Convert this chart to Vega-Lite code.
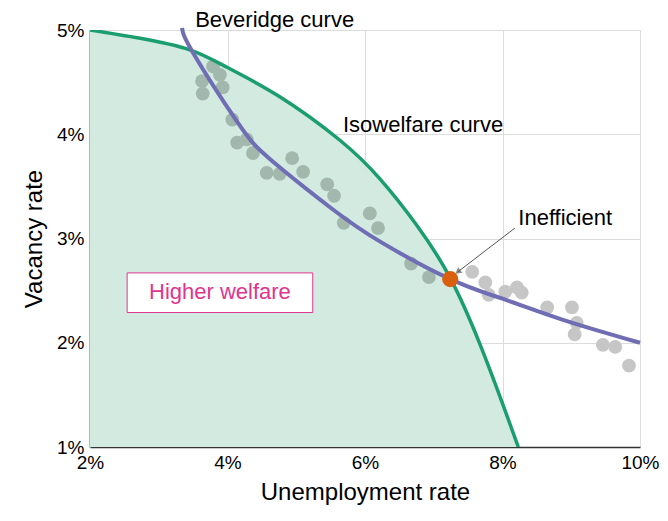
{
  "$schema": "https://vega.github.io/schema/vega-lite/v6.json",
  "width": 550,
  "height": 417,
  "autosize": "none",
  "padding": {"left": 90, "top": 30, "right": 28, "bottom": 74},
  "background": "white",
  "config": {"font": "Liberation Sans", "view": {"stroke": null}},
  "datasets": {
    "iso": [
      {"u": 2.0, "v": 5.0}, {"u": 2.73, "v": 4.92}, {"u": 3.45, "v": 4.81}, {"u": 4.0, "v": 4.64}, {"u": 4.76, "v": 4.36},
      {"u": 5.64, "v": 3.94}, {"u": 6.22, "v": 3.57}, {"u": 6.75, "v": 3.13}, {"u": 7.24, "v": 2.62}, {"u": 7.67, "v": 1.99},
      {"u": 8.01, "v": 1.4}, {"u": 8.23, "v": 1.0}
    ],
    "bev": [
      {"u": 3.34, "v": 5.02}, {"u": 3.5, "v": 4.78}, {"u": 4.14, "v": 4.12}, {"u": 4.62, "v": 3.76},
      {"u": 5.49, "v": 3.3}, {"u": 6.22, "v": 2.97}, {"u": 7.24, "v": 2.61}, {"u": 8.01, "v": 2.42},
      {"u": 8.88, "v": 2.22}, {"u": 10.0, "v": 2.0}
    ],
    "obs": [
      {"u": 3.79, "v": 4.65, "g": "in"}, {"u": 3.89, "v": 4.57, "g": "in"}, {"u": 3.63, "v": 4.51, "g": "in"},
      {"u": 3.93, "v": 4.45, "g": "in"}, {"u": 3.64, "v": 4.39, "g": "in"}, {"u": 4.07, "v": 4.14, "g": "in"},
      {"u": 4.14, "v": 3.92, "g": "in"}, {"u": 4.28, "v": 3.95, "g": "in"}, {"u": 4.37, "v": 3.82, "g": "in"},
      {"u": 4.57, "v": 3.63, "g": "in"}, {"u": 4.76, "v": 3.62, "g": "in"}, {"u": 4.94, "v": 3.77, "g": "in"},
      {"u": 5.1, "v": 3.64, "g": "in"}, {"u": 5.45, "v": 3.52, "g": "in"}, {"u": 5.55, "v": 3.41, "g": "in"},
      {"u": 5.69, "v": 3.15, "g": "in"}, {"u": 6.07, "v": 3.24, "g": "in"}, {"u": 6.19, "v": 3.1, "g": "in"},
      {"u": 6.67, "v": 2.76, "g": "in"}, {"u": 6.93, "v": 2.63, "g": "in"},
      {"u": 7.56, "v": 2.68, "g": "out"}, {"u": 7.75, "v": 2.58, "g": "out"}, {"u": 7.8, "v": 2.46, "g": "out"},
      {"u": 8.04, "v": 2.49, "g": "out"}, {"u": 8.21, "v": 2.53, "g": "out"}, {"u": 8.28, "v": 2.48, "g": "out"},
      {"u": 8.65, "v": 2.34, "g": "out"}, {"u": 9.01, "v": 2.34, "g": "out"}, {"u": 9.08, "v": 2.19, "g": "out"},
      {"u": 9.05, "v": 2.08, "g": "out"}, {"u": 9.46, "v": 1.98, "g": "out"}, {"u": 9.64, "v": 1.96, "g": "out"},
      {"u": 9.84, "v": 1.78, "g": "out"}
    ],
    "labels": [
      {"u": 3.53, "v": 5.1, "t": "Beveridge curve"},
      {"u": 5.68, "v": 4.09, "t": "Isowelfare curve"},
      {"u": 8.23, "v": 3.2, "t": "Inefficient"}
    ],
    "arrow": [{"u": 8.18, "v": 3.1}, {"u": 7.35, "v": 2.68}],
    "box": [{"u": 2.54, "u2": 5.24, "v": 2.67, "v2": 2.29, "m": 3.89, "w": 2.49, "t": "Higher welfare"}],
    "pt": [{"u": 7.24, "v": 2.61}]
  },
  "layer": [
    {
      "data": {"name": "iso"},
      "mark": {"type": "area", "color": "#d2eae0", "interpolate": "natural"},
      "encoding": {
        "x": {"field": "u", "type": "quantitative", "scale": {"domain": [2, 10], "nice": false},
          "axis": {"title": "Unemployment rate", "titleFontSize": 24, "titleFontWeight": "normal", "titlePadding": 8,
            "labelFontSize": 19, "labelExpr": "datum.value + '%'", "values": [2, 4, 6, 8, 10], "ticks": false,
            "labelPadding": 6, "gridColor": "#dcdcdc", "domainColor": "#333", "domainWidth": 1.5, "labelColor": "black", "titleColor": "black", "labelFlush": false}},
        "y": {"field": "v", "type": "quantitative", "scale": {"domain": [1, 5], "nice": false},
          "axis": {"title": "Vacancy rate", "titleFontSize": 24, "titleFontWeight": "normal", "titlePadding": 10,
            "labelFontSize": 19, "labelExpr": "datum.value + '%'", "values": [1, 2, 3, 4, 5], "ticks": false,
            "labelPadding": 6, "gridColor": "#dcdcdc", "domainColor": "#1a9e6f", "domainWidth": 2, "labelColor": "black", "titleColor": "black", "labelFlush": false}},
        "y2": {"datum": 1}
      }
    },
    {
      "data": {"name": "box"},
      "mark": {"type": "rect", "fill": "white", "stroke": "#e0358f", "strokeWidth": 1},
      "encoding": {
        "x": {"field": "u", "type": "quantitative"}, "x2": {"field": "u2"},
        "y": {"field": "v", "type": "quantitative"}, "y2": {"field": "v2"}
      }
    },
    {
      "data": {"name": "box"},
      "mark": {"type": "text", "fontSize": 22, "color": "#e0358f", "align": "center", "baseline": "middle"},
      "encoding": {
        "x": {"field": "m", "type": "quantitative"}, "y": {"field": "w", "type": "quantitative"}, "text": {"field": "t"}
      }
    },
    {
      "data": {"name": "obs"},
      "mark": {"type": "circle", "size": 190, "opacity": 1},
      "encoding": {
        "x": {"field": "u", "type": "quantitative"},
        "y": {"field": "v", "type": "quantitative"},
        "color": {"field": "g", "type": "nominal", "scale": {"domain": ["in", "out"], "range": ["#a3b8ad", "#c6c6c6"]}, "legend": null}
      }
    },
    {
      "data": {"name": "iso"},
      "mark": {"type": "line", "color": "#1a9e6f", "strokeWidth": 3.5, "interpolate": "natural", "clip": true},
      "encoding": {"x": {"field": "u", "type": "quantitative"}, "y": {"field": "v", "type": "quantitative"}}
    },
    {
      "data": {"name": "bev"},
      "mark": {"type": "line", "color": "#6f6db4", "strokeWidth": 4, "interpolate": "natural"},
      "encoding": {"x": {"field": "u", "type": "quantitative"}, "y": {"field": "v", "type": "quantitative"}}
    },
    {
      "data": {"name": "arrow"},
      "mark": {"type": "line", "color": "#555", "strokeWidth": 1},
      "encoding": {"x": {"field": "u", "type": "quantitative"}, "y": {"field": "v", "type": "quantitative"}}
    },
    {
      "data": {"name": "arrow"},
      "transform": [{"filter": "datum.u < 8"}],
      "mark": {"type": "point", "shape": "triangle-up", "angle": 232, "size": 50, "filled": true, "color": "#555"},
      "encoding": {"x": {"field": "u", "type": "quantitative"}, "y": {"field": "v", "type": "quantitative"}}
    },
    {
      "data": {"name": "pt"},
      "mark": {"type": "circle", "size": 260, "color": "#d95f0e", "opacity": 1},
      "encoding": {"x": {"field": "u", "type": "quantitative"}, "y": {"field": "v", "type": "quantitative"}}
    },
    {
      "data": {"name": "labels"},
      "mark": {"type": "text", "fontSize": 22, "baseline": "middle", "align": "left", "color": "black"},
      "encoding": {
        "x": {"field": "u", "type": "quantitative"},
        "y": {"field": "v", "type": "quantitative"},
        "text": {"field": "t"}
      }
    }
  ]
}
